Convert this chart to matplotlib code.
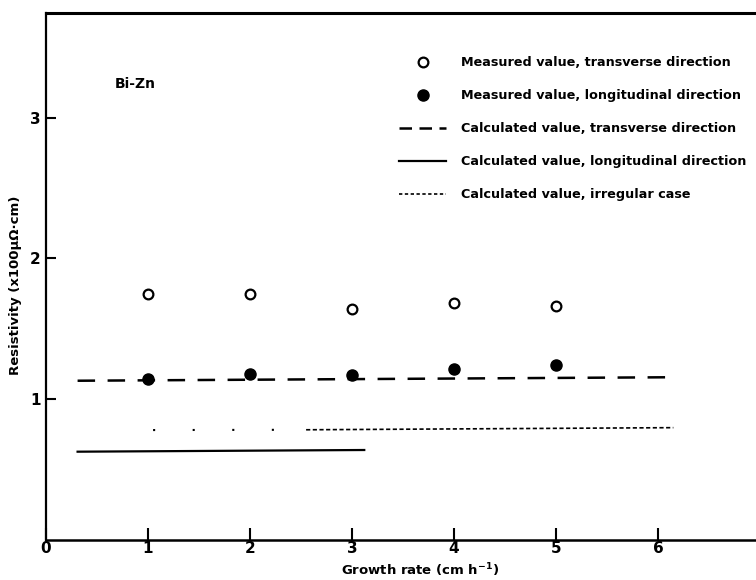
import matplotlib.pyplot as plt
from matplotlib.lines import Line2D

# growth rate (cm/h) and measured resistivity (x100 uOhm cm)
rate = [1, 2, 3, 4, 5]
meas_trans = [1.75, 1.75, 1.64, 1.68, 1.66]
meas_long = [1.14, 1.18, 1.17, 1.21, 1.24]

# calculated curves
calc_trans_x = [0.31, 6.19]
calc_trans_y = [1.13, 1.155]
calc_long_x = [0.31, 3.12]
calc_long_y = [0.625, 0.637]
irr_sparse_x = [1.05, 2.55]
irr_sparse_y = [0.779, 0.781]
irr_x = [2.55, 6.15]
irr_y = [0.781, 0.796]

labels = [
    "Measured value, transverse direction",
    "Measured value, longitudinal direction",
    "Calculated value, transverse direction",
    "Calculated value, longitudinal direction",
    "Calculated value, irregular case",
]

plt.rcParams['font.family'] = ['DejaVu Sans']
plt.rcParams['font.weight'] = 'bold'

fig = plt.figure(figsize=(7.56, 5.80), dpi=100)
ax = fig.add_axes([0.0608, 0.0698, 0.9392, 0.9078])

ax.plot(rate, meas_trans, 'o', mfc='white', mec='black', mew=1.6, ms=7)
ax.plot(rate, meas_long, 'o', color='black', ms=8)
ax.plot(calc_trans_x, calc_trans_y, color='black', lw=1.8, dashes=(7, 5))
ax.plot(calc_long_x, calc_long_y, color='black', lw=1.6)
ax.plot(irr_sparse_x, irr_sparse_y, color='black', lw=1.5, dashes=(1, 18))
ax.plot(irr_x, irr_y, color='black', lw=1.2, dashes=(2.5, 1.5))

ax.set_xlim(0, 6.96)
ax.set_ylim(0, 3.747)
ax.set_xticks([0, 1, 2, 3, 4, 5, 6])
ax.set_yticks([1, 2, 3])
ax.tick_params(axis='x', direction='in', length=9, width=1.5, labelsize=11, pad=1)
ax.tick_params(axis='y', direction='in', length=7, width=1.5, labelsize=11, pad=4)
ax.spines['right'].set_visible(False)
ax.spines['top'].set_linewidth(2.2)
ax.spines['left'].set_linewidth(1.6)
ax.spines['bottom'].set_linewidth(1.8)

ax.set_xlabel("Growth rate (cm h$^{-1}$)", fontsize=9.5, fontweight='bold')
ax.xaxis.set_label_coords(0.527, -0.042)
ax.set_ylabel("Resistivity (x100\u03bc\u03a9\u00b7cm)", fontsize=9.5, fontweight='bold')
ax.yaxis.set_label_coords(-0.034, 0.483)

ax.text(0.097, 0.865, "Bi-Zn", transform=ax.transAxes, fontsize=10,
        fontweight='bold', va='center')

handles = [
    Line2D([], [], ls='none', marker='o', mfc='white', mec='black', mew=1.6, ms=7),
    Line2D([], [], ls='none', marker='o', color='black', ms=8),
    Line2D([], [], color='black', lw=1.8, dashes=(5, 3)),
    Line2D([], [], color='black', lw=1.6),
    Line2D([], [], color='black', lw=1.2, dashes=(2, 1.5)),
]
ax.legend(handles, labels, loc='upper left', bbox_to_anchor=(0.49, 0.928),
          frameon=False, fontsize=9.2, handlelength=3.7, handletextpad=1.15,
          labelspacing=1.57, borderaxespad=0)

fig.savefig("out.png", dpi=100)
